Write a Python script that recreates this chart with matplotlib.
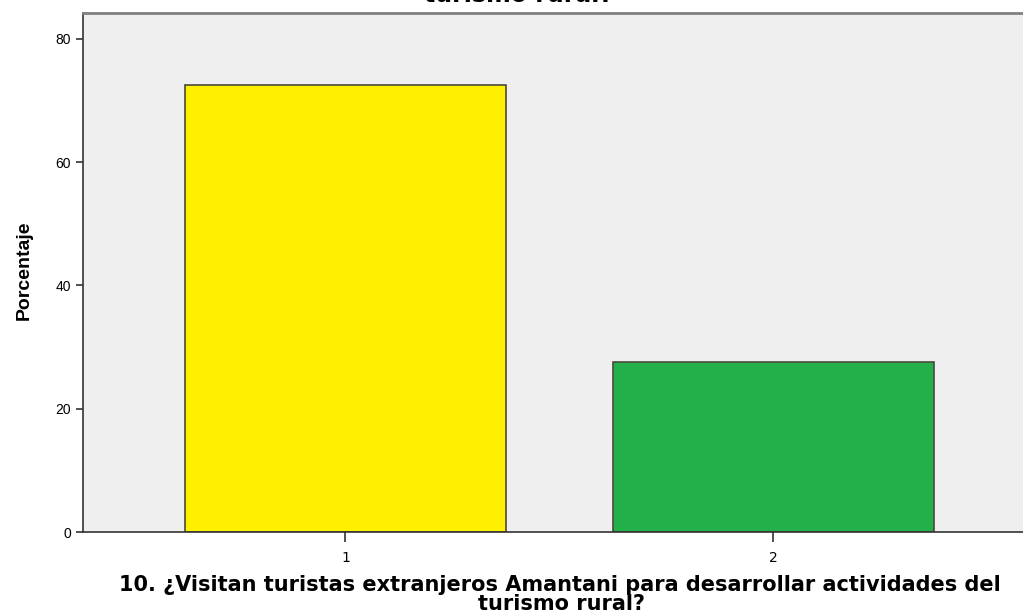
import matplotlib
matplotlib.use("Agg")
import matplotlib.pyplot as plt

# data
categorias = ["1", "2"]
porcentajes = [72.5, 27.5]
colores = ["#FFF000", "#23B04B"]
yticks = [0, 20, 40, 60, 80]

narrow = ["Liberation Sans Narrow", "Liberation Sans", "DejaVu Sans"]

fig = plt.figure(figsize=(10.23, 6.12), dpi=100)
ax = fig.add_axes([83 / 1023, 80 / 612, 1 - 83 / 1023, 519 / 612])
ax.set_facecolor("#EFEFEF")

pos = [1, 2]
ax.bar(pos, porcentajes, width=0.75, color=colores, edgecolor="#4a4a3a", linewidth=1.2, zorder=2)

ax.set_xlim(0.387, 2.583)
ax.set_ylim(0, 84.2)
ax.set_xticks(pos)
ax.set_xticklabels(categorias, fontsize=10, family="DejaVu Sans")
ax.set_yticks(yticks)
ax.set_yticklabels([str(v) for v in yticks], fontsize=10, family=["Liberation Sans", "DejaVu Sans"])
ax.tick_params(axis="both", direction="out", length=5, width=1.2, color="#333333")
ax.tick_params(axis="x", length=7, pad=7)

for s in ["left", "bottom"]:
    ax.spines[s].set_color("#333333")
    ax.spines[s].set_linewidth(1.2)
ax.spines["top"].set_color("#808080")
ax.spines["top"].set_linewidth(2)
ax.spines["right"].set_visible(False)

fig.text(24 / 1023, 1 - 270 / 612, "Porcentaje", rotation=90, ha="center", va="center",
         fontsize=14, fontweight="bold", family=narrow)

# x axis title, two lines
xtitulo = ["10. ¿Visitan turistas extranjeros Amantani para desarrollar actividades del",
           "turismo rural?"]
fig.text(560 / 1023, 1 - 591 / 612, xtitulo[0], ha="center", va="baseline",
         fontsize=15, fontweight="bold", family="DejaVu Sans")
fig.text(561 / 1023, 1 - 610 / 612, xtitulo[1], ha="center", va="baseline",
         fontsize=15, fontweight="bold", family="DejaVu Sans")

# title cut off at the top of the picture
fig.text(518 / 1023, 1 - 2 / 612, "turismo rural?", ha="center", va="baseline",
         fontsize=17, fontweight="bold", family="DejaVu Sans")

fig.savefig("out.png", dpi=100)
